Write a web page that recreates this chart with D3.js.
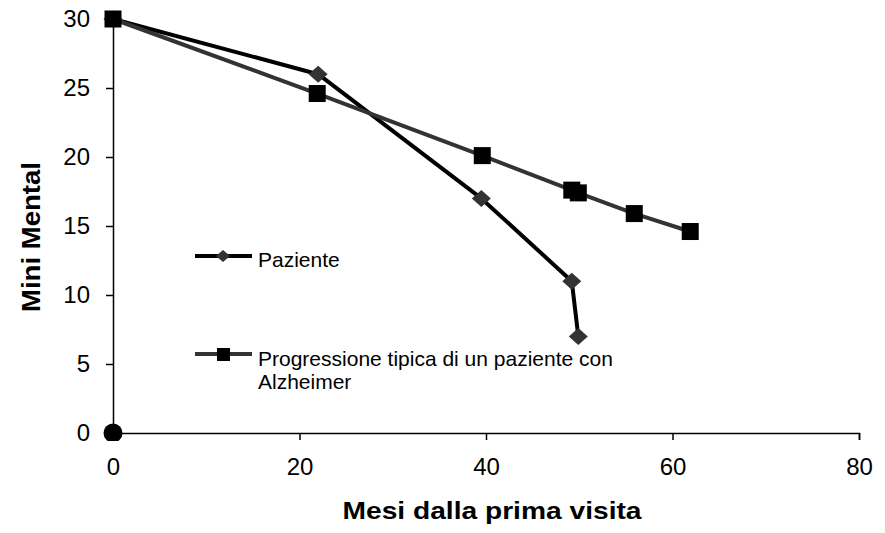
<!DOCTYPE html>
<html><head><meta charset="utf-8">
<script src="https://cdn.jsdelivr.net/npm/d3@7"></script>
<style>body{margin:0;background:#fff}svg{display:block;font-family:"Liberation Sans",Arial,sans-serif}</style>
</head><body><svg id="c" width="885" height="533"></svg>
<script>
const pazienteX = [0, 22, 39.5, 49.2, 49.9];
const pazienteY = [30, 26, 17, 11, 7];
const tipicaX = [0, 21.9, 39.6, 49.2, 49.9, 55.9, 61.9];
const tipicaY = [30, 24.6, 20.1, 17.6, 17.4, 15.9, 14.6];
const originX = [0];
const originY = [0];
const xTicks = [0, 20, 40, 60, 80];
const yTicks = [0, 5, 10, 15, 20, 25, 30];
const legendLabels = ["Paziente", "Progressione tipica di un paziente con", "Alzheimer"];
const xTitle = "Mesi dalla prima visita";
const yTitle = "Mini Mental";

const svg = d3.select("#c");
const L = 113, R = 859, T = 19, B = 433;
const x = d3.scaleLinear().domain([0, 80]).range([L, R]);
const y = d3.scaleLinear().domain([0, 30]).range([B, T]);

// axes
const xa = svg.append("g").attr("transform", `translate(0,${B})`)
  .call(d3.axisBottom(x).tickValues(xTicks).tickSize(7).tickPadding(18).tickFormat(d3.format("d")));
const ya = svg.append("g").attr("transform", `translate(${L},0)`)
  .call(d3.axisLeft(y).tickValues(yTicks).tickSize(7).tickPadding(16).tickFormat(d3.format("d")));
[xa, ya].forEach(a => {
  a.select(".domain").attr("stroke", "#000").attr("stroke-width", 1.5);
  a.selectAll(".tick line").attr("stroke", "#000").attr("stroke-width", 1.5);
  a.selectAll("text").attr("font-size", 24).attr("fill", "#000").attr("font-family", "Liberation Sans, Arial, sans-serif");
});

svg.append("text").attr("x", 492).attr("y", 519).attr("text-anchor", "middle")
  .attr("font-size", 24).attr("font-weight", "bold")
  .attr("textLength", 299).attr("lengthAdjust", "spacingAndGlyphs").text(xTitle);
svg.append("text").attr("transform", "translate(40,237) rotate(-90)").attr("text-anchor", "middle")
  .attr("font-size", 25).attr("font-weight", "bold")
  .attr("textLength", 150).attr("lengthAdjust", "spacingAndGlyphs").text(yTitle);

const line = d3.line().x(d => x(d[0])).y(d => y(d[1]));
const paz = pazienteX.map((v, i) => [v, pazienteY[i]]);
const tip = tipicaX.map((v, i) => [v, tipicaY[i]]);

const diamond = (w, h) => `M0,${-h}L${w},0L0,${h}L${-w},0Z`;

// patient series
svg.append("path").datum(paz).attr("d", line).attr("fill", "none")
  .attr("stroke", "#000").attr("stroke-width", 4).attr("stroke-linejoin", "round");
svg.selectAll(".dm").data(paz).join("path").attr("class", "dm")
  .attr("transform", d => `translate(${x(d[0])},${y(d[1])})`)
  .attr("d", diamond(9.5, 8.5)).attr("fill", "#333");

// typical series
svg.append("path").datum(tip).attr("d", line).attr("fill", "none")
  .attr("stroke", "#333").attr("stroke-width", 4).attr("stroke-linejoin", "round");
svg.selectAll(".sq").data(tip).join("rect").attr("class", "sq")
  .attr("x", d => x(d[0]) - 8.5).attr("y", d => y(d[1]) - 8.5)
  .attr("width", 17).attr("height", 17).attr("fill", "#000");

// origin point
svg.append("clipPath").attr("id", "cp").append("rect").attr("x", 0).attr("y", 0).attr("width", 885).attr("height", B + 8);
svg.selectAll(".og").data(originX.map((v, i) => [v, originY[i]])).join("circle").attr("class", "og")
  .attr("clip-path", "url(#cp)")
  .attr("cx", d => x(d[0])).attr("cy", d => y(d[1])).attr("r", 9.5).attr("fill", "#000");

// legend
const lg = svg.append("g").attr("font-size", 21);
lg.append("line").attr("x1", 195).attr("x2", 252).attr("y1", 256).attr("y2", 256).attr("stroke", "#000").attr("stroke-width", 4);
lg.append("path").attr("transform", "translate(223,256)").attr("d", diamond(7, 6)).attr("fill", "#333");
lg.append("text").attr("x", 258).attr("y", 267).text(legendLabels[0]);
lg.append("line").attr("x1", 195).attr("x2", 252).attr("y1", 354).attr("y2", 354).attr("stroke", "#333").attr("stroke-width", 4);
lg.append("rect").attr("x", 217).attr("y", 348).attr("width", 13).attr("height", 13).attr("fill", "#000");
lg.append("text").attr("x", 258).attr("y", 366).text(legendLabels[1]);
lg.append("text").attr("x", 258).attr("y", 389).text(legendLabels[2]);
</script></body></html>
